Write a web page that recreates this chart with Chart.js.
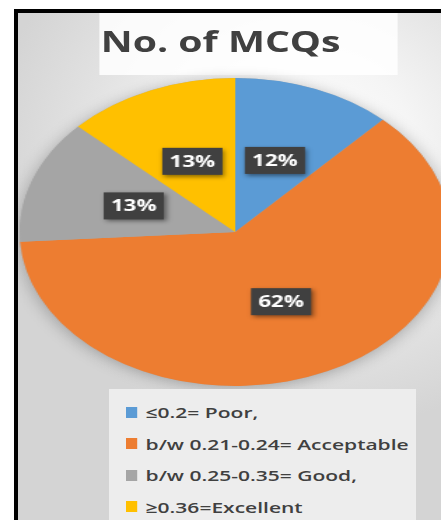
<!DOCTYPE html>
<html lang="en">
<head>
  <meta charset="UTF-8">
  <title>No. of MCQs</title>
  <script src="https://cdn.jsdelivr.net/npm/chart.js"></script>
  <style>
    html, body {
      margin: 0;
      width: 441px;
      height: 520px;
      overflow: hidden;
      background: #fff;
      font-family: "Open Sans", Arial, sans-serif;
    }

    #frame {
      position: absolute;
      left: 14px;
      top: 9px;
      right: 0;
      bottom: 0;
      border-left: 4px solid #000;
      border-top: 4px solid #000;
      background: radial-gradient(ellipse 75% 55% at 68% 28%, #ffffff 0%, #f5f5f5 35%, #e2e2e2 70%, #d4d4d4 100%);
      overflow: hidden;
    }

    /* the whole picture is stretched sideways, like the reference */
    #stage {
      position: absolute;
      left: -18px;
      top: -13px;
      width: 340px;
      height: 520px;
      transform: scaleX(1.4);
      transform-origin: 0 0;
    }

    #titleBox {
      position: absolute;
      left: 71px;
      top: 13px;
      width: 213px;
      height: 62px;
      background: rgba(255, 255, 255, 0.85);
    }

    #title {
      position: absolute;
      left: 72px;
      top: 22px;
      font-size: 28px;
      font-weight: bold;
      color: #404040;
      line-height: normal;
      white-space: nowrap;
    }

    #legendBox {
      position: absolute;
      left: 78px;
      top: 389px;
      width: 219px;
      height: 140px;
      background: #ededed;
    }

    .row {
      position: absolute;
      left: 90px;
      height: 20px;
      display: flex;
      align-items: center;
      font-size: 15px;
      font-weight: 600;
      color: #404040;
      white-space: nowrap;
    }

    .mark {
      width: 8px;
      height: 11px;
      margin-right: 6px;
    }

    canvas {
      position: absolute;
      left: 0;
      top: 0;
    }
  </style>
</head>
<body>
  <div id="frame">
    <div id="stage">
      <div id="titleBox"></div>
      <div id="title">No. of MCQs</div>
      <canvas id="pieChart" width="340" height="520"></canvas>
      <div id="legendBox"></div>
    </div>
  </div>
  <script>
    const categories = ["≤0.2= Poor,", "b/w 0.21-0.24= Acceptable", "b/w 0.25-0.35= Good,", "≥0.36=Excellent"];
    const percents = [12, 62, 13, 13];
    const sliceColors = ["#5B9BD5", "#ED7D31", "#A5A5A5", "#FFC000"];

    // legend rows
    const stage = document.getElementById("stage");
    categories.forEach((name, i) => {
      const row = document.createElement("div");
      row.className = "row";
      row.style.top = (402 + i * 31.5) + "px";
      const mark = document.createElement("span");
      mark.className = "mark";
      mark.style.background = sliceColors[i];
      const txt = document.createElement("span");
      txt.textContent = name;
      row.appendChild(mark);
      row.appendChild(txt);
      stage.appendChild(row);
    });

    // soft shadow under the pie
    const pieShadow = {
      id: "pieShadow",
      beforeDatasetsDraw(chart) {
        const arc = chart.getDatasetMeta(0).data[0];
        if (!arc) return;
        const ctx = chart.ctx;
        ctx.save();
        ctx.shadowColor = "rgba(0, 0, 0, 0.28)";
        ctx.shadowBlur = 14;
        ctx.shadowOffsetY = 2;
        ctx.fillStyle = "#aaa";
        ctx.beginPath();
        ctx.arc(arc.x, arc.y, arc.outerRadius, 0, Math.PI * 2);
        ctx.fill();
        ctx.restore();
      }
    };

    // dark boxed percent labels
    const boxLabels = {
      id: "boxLabels",
      afterDatasetsDraw(chart) {
        const ctx = chart.ctx;
        const meta = chart.getDatasetMeta(0);
        meta.data.forEach((arc, i) => {
          const mid = (arc.startAngle + arc.endAngle) / 2;
          const r = arc.outerRadius * 0.5;
          const x = arc.x + Math.cos(mid) * r;
          const y = arc.y + Math.sin(mid) * r;
          const w = 43, h = 27;
          ctx.save();
          ctx.shadowColor = "rgba(0, 0, 0, 0.45)";
          ctx.shadowBlur = 4;
          ctx.shadowOffsetX = 1.5;
          ctx.shadowOffsetY = 2;
          ctx.fillStyle = "#404040";
          ctx.fillRect(x - w / 2, y - h / 2, w, h);
          ctx.restore();
          ctx.save();
          ctx.fillStyle = "#fff";
          ctx.font = "bold 16px 'Open Sans', Arial, sans-serif";
          ctx.textAlign = "center";
          ctx.textBaseline = "middle";
          ctx.fillText(percents[i] + "%", x, y + 1);
          ctx.restore();
        });
      }
    };

    const ctx = document.getElementById("pieChart").getContext("2d");
    new Chart(ctx, {
      type: "pie",
      data: {
        labels: categories,
        datasets: [{
          data: percents,
          backgroundColor: sliceColors,
          borderWidth: 0
        }]
      },
      options: {
        responsive: false,
        animation: false,
        layout: {
          padding: { left: 14, right: 18, top: 78, bottom: 134 }
        },
        plugins: {
          legend: { display: false },
          title: { display: false },
          tooltip: { enabled: false }
        }
      },
      plugins: [pieShadow, boxLabels]
    });
  </script>
</body>
</html>
